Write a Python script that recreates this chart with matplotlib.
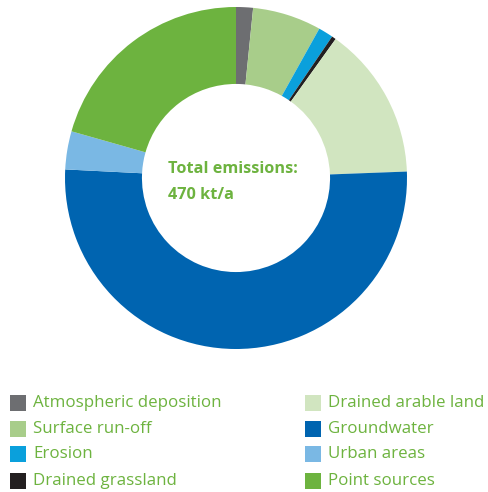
import matplotlib.pyplot as plt
from matplotlib.patches import Rectangle

labels = ['Atmospheric deposition', 'Surface run-off', 'Erosion', 'Drained grassland',
          'Drained arable land', 'Groundwater', 'Urban areas', 'Point sources']
shares = [1.6, 6.5, 1.4, 0.4, 14.5, 51.4, 3.6, 20.6]
colors = ['#6d6e71', '#a8cd8a', '#0aa0dc', '#231f20',
          '#d1e5c0', '#0064b0', '#7ab8e4', '#6db33f']
text_green = '#6db33f'

plt.rcParams['font.family'] = ['Open Sans', 'DejaVu Sans']

fig = plt.figure(figsize=(4.88, 4.92), dpi=100)

# donut: centre (236,178), outer radius 171 px
W, H = 488, 492
ax = fig.add_axes([(236 - 171) / W, 1 - (178 + 171) / H, 342 / W, 342 / H])
ax.pie(shares, colors=colors, startangle=90, counterclock=False,
       wedgeprops=dict(width=0.45, linewidth=0))
ax.set_xlim(-1, 1)
ax.set_ylim(-1, 1)
ax.set_aspect('equal')
ax.text(-0.40, 0.05, 'Total emissions:', color=text_green, fontsize=11.7,
        fontweight='bold', ha='left', va='center')
ax.text(-0.40, -0.10, '470 kt/a', color=text_green, fontsize=11.7,
        fontweight='bold', ha='left', va='center')

# legend drawn in figure pixel coordinates
lax = fig.add_axes([0, 0, 1, 1])
lax.set_xlim(0, W)
lax.set_ylim(H, 0)
lax.axis('off')
rows_y = [403, 429, 454, 481]
for i, (lab, col) in enumerate(zip(labels, colors)):
    c, r = divmod(i, 4)
    x0 = 10 if c == 0 else 305
    y = rows_y[r]
    lax.add_patch(Rectangle((x0, y - 8), 16, 16, color=col, lw=0))
    lax.text(x0 + 23, y, lab, color=text_green, fontsize=12.2,
             ha='left', va='center')

fig.savefig('out.png', dpi=100)
